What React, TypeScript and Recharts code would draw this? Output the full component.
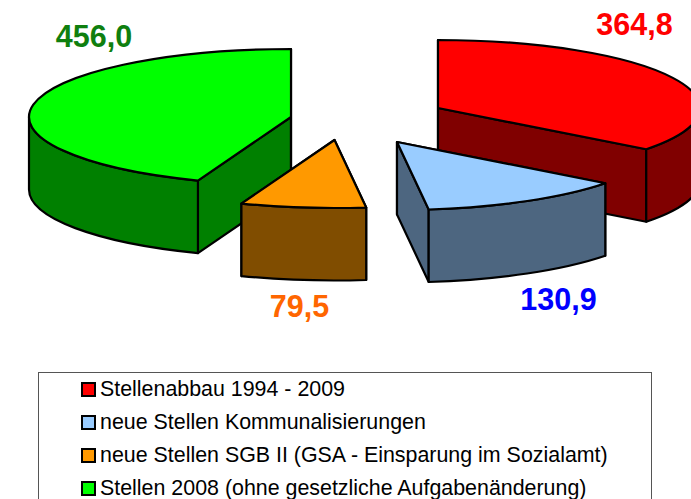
import React from "react";
import { PieChart, Pie, Legend } from "recharts";

const categories = [
  "Stellenabbau 1994 - 2009",
  "neue Stellen Kommunalisierungen",
  "neue Stellen SGB II (GSA - Einsparung im Sozialamt)",
  "Stellen 2008 (ohne gesetzliche Aufgabenänderung)",
];
const values = [364.8, 130.9, 79.5, 456.0];
const valueLabels = ["364,8", "130,9", "79,5", "456,0"];
const topColors = ["#ff0000", "#99ccff", "#ff9900", "#00ff00"];
const wallColors = ["#800000", "#4d6680", "#804d00", "#008000"];
const labelColors = ["#ff0000", "#0000ff", "#ff6600", "#0f7f0f"];
// explosion of each slice from the common centre, in px
const explodeX = [73, 32, -30.5, -74];
const explodeY = [-17, 17, 15, -8];
// label anchor relative to the exploded apex
const labelX = [196.5, 161.5, -35, -197];
const labelY = [-81, 160, 169, -78];
const drawOrder = [3, 0, 1, 2];

const CX = 365;
const CY = 125;
const RX = 262;
const TILT = 0.2595;
const DEPTH = 72.5;
const STROKE = { stroke: "#000", strokeWidth: 2.2, strokeLinejoin: "round" as const };

const total = values.reduce((a, b) => a + b, 0);
const firstSweep = (values[drawOrder[0]] / total) * 360;
const startCompass = 360 - firstSweep;
const pieData = drawOrder.map((i) => ({ name: categories[i], value: values[i], idx: i }));

function SliceShape(props: any) {
  const i: number = props.idx ?? props.payload?.idx;
  const px = props.cx + explodeX[i];
  const py = props.cy + explodeY[i];
  const rx = props.outerRadius;
  const ry = rx * TILT;
  const sweep = props.startAngle - props.endAngle;
  const a0 = (((90 - props.startAngle) % 360) + 360) % 360;
  const a1 = a0 + sweep;
  const pt = (a: number): [number, number] => {
    const r = (a * Math.PI) / 180;
    return [px + rx * Math.sin(r), py - ry * Math.cos(r)];
  };
  const [sx, sy] = pt(a0);
  const [ex, ey] = pt(a1);
  const large = sweep > 180 ? 1 : 0;
  const top = `M${px},${py} L${sx},${sy} A${rx},${ry} 0 ${large} 1 ${ex},${ey} Z`;
  const face = (x: number, y: number) =>
    `M${px},${py} L${x},${y} L${x},${y + DEPTH} L${px},${py + DEPTH} Z`;
  const wallStart = Math.max(a0, 90);
  const wallEnd = Math.min(a1, 270);
  let arcWall: string | null = null;
  if (wallEnd > wallStart) {
    const [wx0, wy0] = pt(wallStart);
    const [wx1, wy1] = pt(wallEnd);
    arcWall =
      `M${wx0},${wy0} A${rx},${ry} 0 0 1 ${wx1},${wy1} L${wx1},${wy1 + DEPTH} ` +
      `A${rx},${ry} 0 0 0 ${wx0},${wy0 + DEPTH} Z`;
  }
  return (
    <g>
      <path d={face(sx, sy)} fill={wallColors[i]} {...STROKE} />
      <path d={face(ex, ey)} fill={wallColors[i]} {...STROKE} />
      {arcWall && <path d={arcWall} fill={wallColors[i]} {...STROKE} />}
      <path d={top} fill={topColors[i]} {...STROKE} />
    </g>
  );
}

function SliceLabel(props: any) {
  const i: number = props.idx ?? props.payload?.idx;
  return (
    <text
      x={props.cx + explodeX[i] + labelX[i]}
      y={props.cy + explodeY[i] + labelY[i]}
      textAnchor="middle"
      dominantBaseline="middle"
      fontFamily="Liberation Sans"
      fontWeight="bold"
      fontSize={30.5}
      fill={labelColors[i]}
    >
      {valueLabels[i]}
    </text>
  );
}

function LegendBox() {
  return (
    <div
      style={{
        position: "absolute",
        left: 0,
        top: 0,
        width: 614,
        height: 140,
        boxSizing: "border-box",
        border: "1px solid #555",
        background: "#fff",
        fontFamily: "Liberation Sans",
        fontSize: 21.4,
        color: "#000",
      }}
    >
      {categories.map((c, i) => (
        <div
          key={c}
          style={{
            position: "absolute",
            left: 42,
            top: 0 + i * 33,
            height: 33,
            display: "flex",
            alignItems: "center",
            whiteSpace: "nowrap",
          }}
        >
          <span
            style={{
              width: 11,
              height: 11,
              border: "2px solid #000",
              background: topColors[i],
              marginRight: 4,
              display: "inline-block",
            }}
          />
          {c}
        </div>
      ))}
    </div>
  );
}

export default function App() {
  return (
    <div
      style={{
        position: "absolute",
        left: 0,
        top: 0,
        width: 691,
        height: 499,
        overflow: "hidden",
        background: "#fff",
      }}
    >
      <PieChart width={691} height={499} margin={{ top: 0, right: 0, bottom: 0, left: 0 }}>
        <Pie
          data={pieData}
          dataKey="value"
          nameKey="name"
          cx={CX}
          cy={CY}
          innerRadius={0}
          outerRadius={RX}
          startAngle={90 - startCompass}
          endAngle={90 - startCompass - 360}
          paddingAngle={0}
          isAnimationActive={false}
          shape={SliceShape}
          inactiveShape={SliceShape}
          activeShape={SliceShape}
          label={SliceLabel}
          labelLine={false}
        />
        <Legend
          content={LegendBox}
          wrapperStyle={{ position: "absolute", left: 38, top: 372, width: 614, height: 140 }}
        />
      </PieChart>
    </div>
  );
}
